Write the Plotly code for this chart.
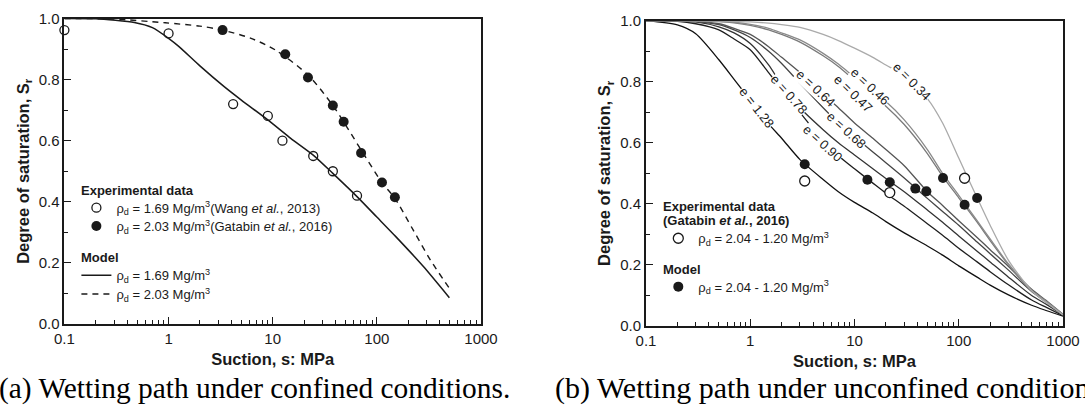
import math
import plotly.graph_objects as go

# ---------------- Panel (a) data ----------------
A_EXP_169_S = [0.1, 1.0, 4.17, 8.98, 12.4, 24.5, 37.8, 64.5]
A_EXP_169_SR = [0.962, 0.951, 0.72, 0.681, 0.60, 0.55, 0.50, 0.42]
A_EXP_203_S = [3.3, 13.2, 21.8, 37.8, 48.0, 70.6, 112, 149]
A_EXP_203_SR = [0.962, 0.883, 0.807, 0.715, 0.662, 0.56, 0.463, 0.415]
A_MOD_169_S = [0.1, 0.2, 0.47, 0.7, 1.0, 1.26, 2, 3.42, 5, 8.98, 15, 24.5, 37.8, 64.5, 100, 152, 280, 497]
A_MOD_169_SR = [1.0, 0.999, 0.987, 0.97, 0.935, 0.908, 0.845, 0.777, 0.733, 0.668, 0.607, 0.553, 0.493, 0.417, 0.35, 0.286, 0.188, 0.086]
A_MOD_203_S = [0.1, 0.3, 0.93, 2, 3.3, 6.2, 10.6, 21.8, 37.8, 70.6, 112, 149, 223, 326, 497]
A_MOD_203_SR = [1.0, 0.998, 0.986, 0.975, 0.962, 0.935, 0.897, 0.815, 0.715, 0.57, 0.463, 0.411, 0.308, 0.21, 0.117]

# ---------------- Panel (b) data ----------------
B_OPEN_S = [3.33, 21.8, 113.8]
B_OPEN_SR = [0.475, 0.437, 0.484]
B_FILLED_S = [3.33, 13.3, 21.8, 38.3, 48.9, 70.6, 113.8, 150]
B_FILLED_SR = [0.530, 0.479, 0.471, 0.45, 0.441, 0.485, 0.397, 0.419]

B_S = [0.1, 0.2, 0.3, 0.5, 0.7, 1, 1.5, 2, 3, 5, 7, 10, 15, 20, 30, 50, 70, 100, 150, 200, 300, 500, 700, 1000]
E_LABELS = ["1.28", "0.90", "0.78", "0.68", "0.64", "0.47", "0.46", "0.34"]
SR_E128 = [1.0, 0.986, 0.957, 0.872, 0.808, 0.74, 0.662, 0.615, 0.545, 0.48, 0.44, 0.405, 0.37, 0.342, 0.305, 0.262, 0.232, 0.197, 0.16, 0.134, 0.102, 0.068, 0.05, 0.032]
SR_E090 = [1.0, 0.998, 0.99, 0.97, 0.94, 0.905, 0.83, 0.775, 0.70, 0.605, 0.558, 0.515, 0.468, 0.435, 0.392, 0.335, 0.297, 0.255, 0.21, 0.178, 0.135, 0.085, 0.06, 0.034]
SR_E078 = [1.0, 0.999, 0.996, 0.98, 0.96, 0.925, 0.855, 0.79, 0.715, 0.643, 0.60, 0.56, 0.515, 0.483, 0.44, 0.38, 0.34, 0.295, 0.245, 0.21, 0.16, 0.10, 0.07, 0.036]
SR_E068 = [1.0, 0.999, 0.997, 0.987, 0.97, 0.945, 0.90, 0.86, 0.795, 0.715, 0.665, 0.62, 0.57, 0.535, 0.485, 0.418, 0.375, 0.33, 0.275, 0.237, 0.183, 0.113, 0.077, 0.037]
SR_E064 = [1.0, 0.999, 0.998, 0.99, 0.975, 0.955, 0.915, 0.88, 0.83, 0.76, 0.715, 0.665, 0.615, 0.578, 0.525, 0.44, 0.395, 0.345, 0.29, 0.25, 0.195, 0.12, 0.082, 0.038]
SR_E047 = [1.0, 1.0, 0.999, 0.997, 0.993, 0.985, 0.97, 0.955, 0.93, 0.885, 0.85, 0.805, 0.755, 0.72, 0.66, 0.565, 0.49, 0.42, 0.34, 0.28, 0.20, 0.115, 0.078, 0.038]
SR_E046 = [1.0, 1.0, 0.999, 0.998, 0.995, 0.988, 0.975, 0.96, 0.937, 0.893, 0.858, 0.815, 0.768, 0.735, 0.675, 0.578, 0.50, 0.428, 0.345, 0.285, 0.203, 0.117, 0.079, 0.038]
SR_E034 = [1.0, 1.0, 1.0, 0.999, 0.998, 0.996, 0.992, 0.987, 0.978, 0.955, 0.935, 0.91, 0.88, 0.855, 0.82, 0.745, 0.665, 0.55, 0.42, 0.33, 0.215, 0.115, 0.075, 0.036]
B_CURVES = [SR_E128, SR_E090, SR_E078, SR_E068, SR_E064, SR_E047, SR_E046, SR_E034]
B_COLORS = ["#111111", "#1e1e1e", "#333333", "#444444", "#555555", "#7a7a7a", "#8a8a8a", "#aaaaaa"]
# label anchor positions (suction, Sr) and angles
LABEL_S = [1.15, 4.98, 2.35, 8.45, 4.27, 9.75, 14.06, 35.5]
LABEL_SR = [0.716, 0.598, 0.757, 0.642, 0.778, 0.763, 0.783, 0.800]
LABEL_ANG = [52, 42, 48, 42, 43, 44, 43, 45]

X_TICKS = [0.1, 1, 10, 100, 1000]
X_TICKTEXT = ["0.1", "1", "10", "100", "1000"]
MINOR = [m * 10 ** k for k in range(-1, 3) for m in range(2, 10)]

FONT = "Liberation Sans, Arial, sans-serif"
SERIF = "Liberation Serif, Times New Roman, serif"
W, H = 1085, 408
INK = "#1a1a1a"


def px_x(p):
    return p / W


def px_y(p):
    return 1 - p / H


fig = go.Figure()

open_marker = dict(symbol="circle", size=9, color="white", line=dict(width=1.3, color=INK))
filled_marker = dict(symbol="circle", size=10, color=INK)

# Panel (a)
fig.add_trace(go.Scatter(x=A_EXP_169_S, y=A_EXP_169_SR, mode="markers", marker=open_marker, cliponaxis=False,
                         name="ρ<sub>d</sub> = 1.69 Mg/m<sup>3</sup>(Wang <i>et al.</i>, 2013)", legend="legend", xaxis="x", yaxis="y"))
fig.add_trace(go.Scatter(x=A_EXP_203_S, y=A_EXP_203_SR, mode="markers", marker=filled_marker,
                         name="ρ<sub>d</sub> = 2.03 Mg/m<sup>3</sup>(Gatabin <i>et al.</i>, 2016)", legend="legend2", xaxis="x", yaxis="y"))
fig.add_trace(go.Scatter(x=A_MOD_169_S, y=A_MOD_169_SR, mode="lines", line=dict(color=INK, width=1.5, shape="spline", smoothing=0.6),
                         name="ρ<sub>d</sub> = 1.69 Mg/m<sup>3</sup>", legend="legend3", xaxis="x", yaxis="y"))
fig.add_trace(go.Scatter(x=A_MOD_203_S, y=A_MOD_203_SR, mode="lines", line=dict(color=INK, width=1.4, dash="6px,5px", shape="spline", smoothing=0.8),
                         name="ρ<sub>d</sub> = 2.03 Mg/m<sup>3</sup>", legend="legend4", xaxis="x", yaxis="y"))

# Panel (b)
for sr, col in zip(B_CURVES, B_COLORS):
    fig.add_trace(go.Scatter(x=B_S, y=sr, mode="lines", line=dict(color=col, width=1.3, shape="spline", smoothing=0.7),
                             showlegend=False, hoverinfo="skip", xaxis="x2", yaxis="y2"))
fig.add_trace(go.Scatter(x=B_OPEN_S, y=B_OPEN_SR, mode="markers", marker=dict(open_marker, size=10),
                         name="ρ<sub>d</sub> = 2.04 - 1.20 Mg/m<sup>3</sup>", legend="legend5", xaxis="x2", yaxis="y2"))
fig.add_trace(go.Scatter(x=B_FILLED_S, y=B_FILLED_SR, mode="markers", marker=filled_marker,
                         name="ρ<sub>d</sub> = 2.04 - 1.20 Mg/m<sup>3</sup>", legend="legend6", xaxis="x2", yaxis="y2"))

xa_common = dict(type="log", range=[-1, 3], tickvals=X_TICKS, ticktext=X_TICKTEXT, automargin=False,
                 ticks="inside", ticklen=7, tickwidth=1.3, tickcolor=INK,
                 minor=dict(tickvals=MINOR, ticks="inside", ticklen=4, tickwidth=1.1, tickcolor=INK),
                 showline=True, linecolor=INK, linewidth=1.8, mirror=True, showgrid=False, zeroline=False,
                 tickfont=dict(family=FONT, size=15, color=INK),
                 title=dict(text="<b>Suction, s: MPa</b>", font=dict(family=FONT, size=16.5, color=INK), standoff=8))
ya_common = dict(range=[0, 1], dtick=0.2, tickformat=".1f", automargin=False,
                 ticks="inside", ticklen=7, tickwidth=1.3, tickcolor=INK,
                 minor=dict(dtick=0.1, ticks="inside", ticklen=4, tickwidth=1.1, tickcolor=INK),
                 showline=True, linecolor=INK, linewidth=1.8, mirror=True, showgrid=False, zeroline=False,
                 tickfont=dict(family=FONT, size=15, color=INK),
                 title=dict(text="<b>Degree of saturation, S<sub>r</sub></b>", font=dict(family=FONT, size=16.5, color=INK), standoff=5))


def leg(xp, yp):
    return dict(bgcolor="rgba(0,0,0,0)", borderwidth=0, font=dict(family=FONT, size=13, color=INK),
                xanchor="left", yanchor="middle", x=px_x(xp), y=px_y(yp), itemsizing="trace", tracegroupgap=0)


annotations = []
for lab, s, sr, ang in zip(E_LABELS, LABEL_S, LABEL_SR, LABEL_ANG):
    annotations.append(dict(x=math.log10(s), y=sr, xref="x2", yref="y2", text="e = " + lab, showarrow=False,
                            textangle=ang, bgcolor="white", borderpad=0, xanchor="center", yanchor="middle",
                            font=dict(family=FONT, size=13, color=INK)))

HEADERS = [("<b>Experimental data</b>", 79, 190), ("<b>Model</b>", 79, 257.3),
           ("<b>Experimental data</b>", 661, 206), ("<b>(Gatabin <i>et al.</i>, 2016)</b>", 661, 220.7),
           ("<b>Model</b>", 661, 269)]
for txt, xp, yp in HEADERS:
    annotations.append(dict(x=px_x(xp), y=px_y(yp), xref="paper", yref="paper", xanchor="left", yanchor="middle",
                            text=txt, showarrow=False, font=dict(family=FONT, size=13, color=INK)))

annotations.append(dict(x=px_x(-3), y=px_y(388), xref="paper", yref="paper", xanchor="left", yanchor="middle",
                        text="(a) Wetting path under confined conditions.", showarrow=False,
                        font=dict(family=SERIF, size=29.4, color="#000")))
annotations.append(dict(x=px_x(553), y=px_y(388), xref="paper", yref="paper", xanchor="left", yanchor="middle",
                        text="(b) Wetting path under unconfined conditions.", showarrow=False,
                        font=dict(family=SERIF, size=30, color="#000")))

fig.update_layout(
    width=W, height=H, margin=dict(l=0, r=0, t=0, b=0, autoexpand=False),
    paper_bgcolor="white", plot_bgcolor="white",
    xaxis=dict(xa_common, domain=[px_x(64.4), px_x(481)], anchor="y"),
    yaxis=dict(ya_common, domain=[px_y(324), px_y(18.5)], anchor="x"),
    xaxis2=dict(xa_common, domain=[px_x(646), px_x(1063)], anchor="y2"),
    yaxis2=dict(ya_common, domain=[px_y(326), px_y(20.7)], anchor="x2"),
    legend=leg(76.4, 207.7),
    legend2=leg(76.4, 226),
    legend3=leg(76.4, 275.3),
    legend4=leg(76.4, 294),
    legend5=leg(658.3, 238.3),
    legend6=leg(658.3, 286.7),
    annotations=annotations,
    showlegend=True,
)

fig.write_html("out.html", config={"displayModeBar": False},
               post_script="document.body.style.margin='0';document.body.style.padding='0';document.body.style.overflow='hidden';")
